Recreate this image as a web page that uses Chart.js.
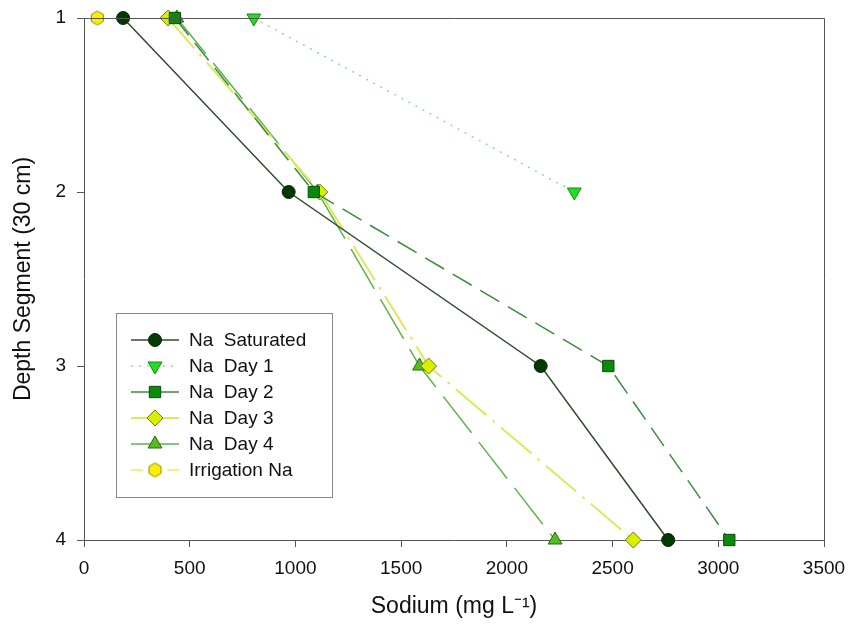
<!DOCTYPE html>
<html>
<head>
<meta charset="utf-8">
<script src="https://cdn.jsdelivr.net/npm/chart.js@4.4.1/dist/chart.umd.min.js"></script>
<style>
  html, body { margin: 0; padding: 0; background: #fff; }
  #wrap { width: 850px; height: 630px; }
</style>
</head>
<body>
<div id="wrap"><canvas id="naChart" width="850" height="630"></canvas></div>
<script>
// depth segments (30 cm each) and sodium values
const depths = [1, 2, 3, 4];
const naSaturated = [185, 968, 2160, 2763];
const naDay1 = [803, 2319];
const naDay2 = [430, 1087, 2480, 3052];
const naDay3 = [397, 1115, 1630, 2598];
const naDay4 = [439, 1105, 1587, 2228];
const irrigationNa = [63];
const xTicks = [0, 500, 1000, 1500, 2000, 2500, 3000, 3500];
const yTicks = [1, 2, 3, 4];

const FONT = "'Liberation Sans', Arial, sans-serif";

// hexagon marker for the irrigation series
function hexMarker(r, fill, stroke) {
    const c = document.createElement('canvas');
    const s = Math.ceil(r * 2 + 3);
    c.width = s; c.height = s;
    const g = c.getContext('2d');
    g.beginPath();
    for (let i = 0; i < 6; i++) {
        const a = Math.PI / 6 + i * Math.PI / 3;
        const px = s / 2 + r * Math.cos(a), py = s / 2 + r * Math.sin(a);
        if (i === 0) g.moveTo(px, py); else g.lineTo(px, py);
    }
    g.closePath();
    g.fillStyle = fill; g.fill();
    g.lineWidth = 1; g.strokeStyle = stroke; g.stroke();
    return c;
}

function pts(xs) {
    return xs.map((v, i) => ({ x: v, y: depths[i] }));
}

const datasets = [
    {
        label: 'Na  Saturated', data: pts(naSaturated),
        borderColor: '#2f4a2f', borderWidth: 1.5, borderDash: [], legendDash: [],
        pointStyle: 'circle', pointRadius: 6.5, pointRotation: 0,
        pointBackgroundColor: '#003a00', pointBorderColor: '#0f200f'
    },
    {
        label: 'Na  Day 1', data: pts(naDay1),
        borderColor: '#8ae08a', borderWidth: 1.5, borderDash: [2, 6], legendDash: [2, 6],
        pointStyle: 'triangle', pointRadius: 8, pointRotation: 180,
        pointBackgroundColor: '#22dd22', pointBorderColor: '#138a13'
    },
    {
        label: 'Na  Day 2', data: pts(naDay2),
        borderColor: '#3d8b3d', borderWidth: 1.5, borderDash: [22, 10], legendDash: [],
        pointStyle: 'rect', pointRadius: 8, pointRotation: 0,
        pointBackgroundColor: '#0a8a0a', pointBorderColor: '#0a4a0a'
    },
    {
        label: 'Na  Day 3', data: pts(naDay3),
        borderColor: '#dde85a', borderWidth: 2, borderDash: [40, 8, 3, 8], legendDash: [],
        pointStyle: 'rectRot', pointRadius: 8, pointRotation: 0,
        pointBackgroundColor: '#d8f000', pointBorderColor: '#7a7a00'
    },
    {
        label: 'Na  Day 4', data: pts(naDay4),
        borderColor: '#5fb34a', borderWidth: 1.5, borderDash: [46, 12], legendDash: [],
        pointStyle: 'triangle', pointRadius: 8, pointRotation: 0,
        pointBackgroundColor: '#55bb22', pointBorderColor: '#2a6a10'
    },
    {
        label: 'Irrigation Na', data: pts(irrigationNa),
        borderColor: '#eeee55', borderWidth: 1.5, borderDash: [], legendDash: [12, 6],
        pointStyle: hexMarker(7, '#ffee00', '#8a8a00'), pointRadius: 7, pointRotation: 0,
        pointBackgroundColor: '#ffee00', pointBorderColor: '#8a8a00'
    }
];
datasets.forEach(d => {
    d.showLine = true;
    d.fill = false;
    d.clip = false;
    d.pointBorderWidth = 1;
    d.pointHoverRadius = d.pointRadius;
});

// box around plot + hand drawn legend in the lower left
const frameAndLegend = {
    id: 'frameAndLegend',
    afterDatasetsDraw(chart) {
        const { ctx, chartArea: a } = chart;
        ctx.save();
        ctx.strokeStyle = '#555';
        ctx.lineWidth = 1;
        ctx.beginPath();
        ctx.moveTo(a.left, a.top + 0.5);
        ctx.lineTo(a.right + 0.5, a.top + 0.5);
        ctx.lineTo(a.right + 0.5, a.bottom);
        ctx.stroke();

        // legend
        const bx = 116, by = 313, bw = 216, bh = 184;
        ctx.fillStyle = '#fff';
        ctx.fillRect(bx, by, bw, bh);
        ctx.strokeStyle = '#888';
        ctx.strokeRect(bx + 0.5, by + 0.5, bw, bh);
        ctx.font = '19px ' + FONT;
        ctx.textBaseline = 'middle';
        chart.data.datasets.forEach((d, i) => {
            const y = 340 + i * 26;
            ctx.strokeStyle = d.borderColor;
            ctx.lineWidth = d.borderWidth;
            ctx.setLineDash(d.legendDash);
            ctx.beginPath();
            ctx.moveTo(131, y);
            ctx.lineTo(179, y);
            ctx.stroke();
            ctx.setLineDash([]);
            ctx.fillStyle = d.pointBackgroundColor;
            ctx.strokeStyle = d.pointBorderColor;
            ctx.lineWidth = 1;
            Chart.helpers.drawPoint(ctx, {
                pointStyle: d.pointStyle, radius: d.pointRadius,
                rotation: d.pointRotation, borderWidth: 1
            }, 155, y);
            ctx.fillStyle = '#111';
            ctx.fillText(d.label, 189, y + 1);
        });
        ctx.restore();
    }
};

new Chart(document.getElementById('naChart'), {
    type: 'scatter',
    data: { datasets },
    plugins: [frameAndLegend],
    options: {
        responsive: false,
        animation: false,
        layout: { padding: { top: 18, right: 26, left: 0, bottom: 0 } },
        plugins: { legend: { display: false }, tooltip: { enabled: false } },
        scales: {
            x: {
                type: 'linear', min: 0, max: 3500,
                afterFit(s) { s.height = 90; s.paddingLeft = 0; s.paddingRight = 0; },
                afterBuildTicks(s) { s.ticks = xTicks.map(v => ({ value: v })); },
                grid: { display: true, drawOnChartArea: false, drawTicks: true, tickLength: 7, color: '#555' },
                border: { display: true, color: '#555' },
                ticks: { color: '#111', font: { family: FONT, size: 19 }, padding: 10,
                         callback: v => String(v) },
                title: { display: true, text: 'Sodium (mg L\u207B\u00B9)', color: '#111',
                         font: { family: FONT, size: 23 }, padding: { top: 0, bottom: 10 } }
            },
            y: {
                type: 'linear', min: 1, max: 4, reverse: true,
                afterFit(s) { s.width = 84; s.paddingTop = 0; s.paddingBottom = 0; },
                afterBuildTicks(s) { s.ticks = yTicks.map(v => ({ value: v })); },
                grid: { display: true, drawOnChartArea: false, drawTicks: true, tickLength: 7, color: '#555' },
                border: { display: true, color: '#555' },
                ticks: { color: '#111', font: { family: FONT, size: 19 }, padding: 11,
                         callback: v => String(v) },
                title: { display: true, text: 'Depth Segment (30 cm)', color: '#111',
                         font: { family: FONT, size: 23 }, padding: { top: 10, bottom: 0 } }
            }
        }
    }
});
</script>
</body>
</html>
